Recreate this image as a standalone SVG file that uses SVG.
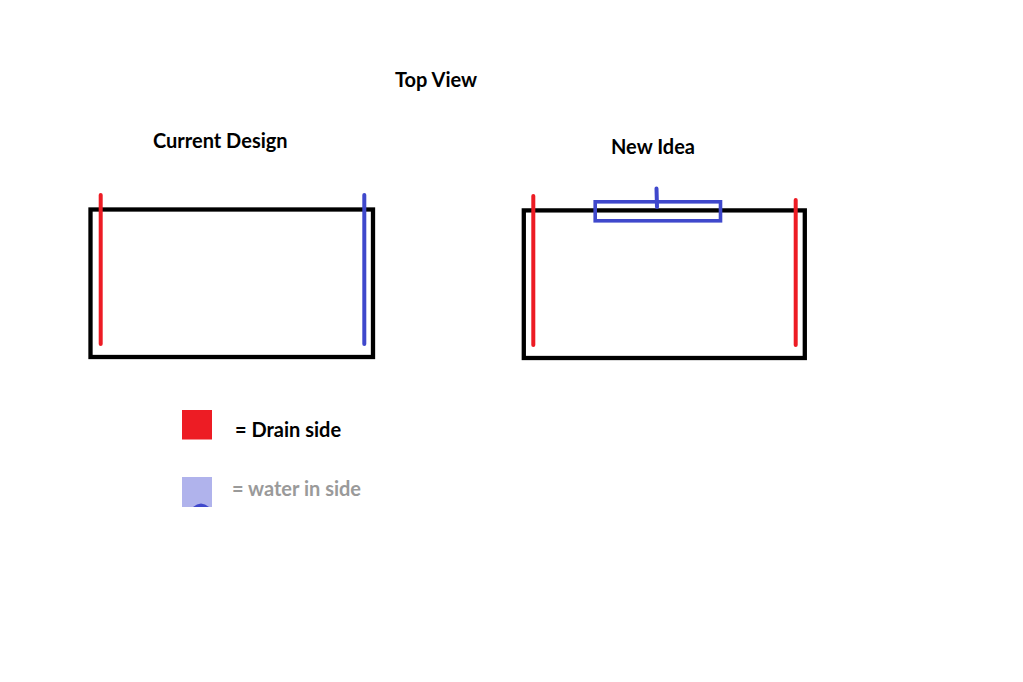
<svg xmlns="http://www.w3.org/2000/svg" width="1023" height="682" viewBox="0 0 1023 682">
<style>
.t{font-family:Lato,"Open Sans","Liberation Sans",sans-serif;font-weight:bold;font-size:20px;fill:#000}
.g{fill:#9a9a9a}
.box{fill:none;stroke:#000;stroke-width:4.3}
.red{stroke:#ED1C24;stroke-width:4;stroke-linecap:round}
.blue{stroke:#3F48CC;stroke-width:4;stroke-linecap:round}
</style>
<rect width="1023" height="682" fill="#fff"/>
<g id="title"><text class="t" x="395" y="87">Top View</text></g>
<g id="current-design">
<text class="t" x="153" y="148">Current Design</text>
<rect class="box" x="90.5" y="209.5" width="282.5" height="147.5"/>
<line class="red" x1="100.7" y1="195" x2="100.7" y2="344"/>
<line class="blue" x1="364.3" y1="195" x2="364.3" y2="344"/>
</g>
<g id="new-idea">
<text class="t" x="611" y="154">New Idea</text>
<rect class="box" x="523.8" y="210.4" width="281" height="147.6"/>
<line class="red" x1="533.3" y1="196" x2="533.3" y2="345"/>
<line class="red" x1="795.7" y1="200" x2="795.7" y2="345"/>
<rect x="595.2" y="201.8" width="125.3" height="19" fill="none" stroke="#3F48CC" stroke-width="3.6"/>
<line class="blue" x1="656.5" y1="188.5" x2="657" y2="207"/>
</g>
<g id="legend">
<rect x="182" y="410" width="30" height="29.5" fill="#ED1C24"/>
<text class="t" x="235" y="437">= Drain side</text>
<rect x="182" y="477" width="30" height="30" fill="#B0B3EC"/>
<path d="M193 507 Q201 500 209 507 Z" fill="#3F48CC"/>
<text class="t g" x="232" y="496">= water in side</text>
</g>
</svg>
